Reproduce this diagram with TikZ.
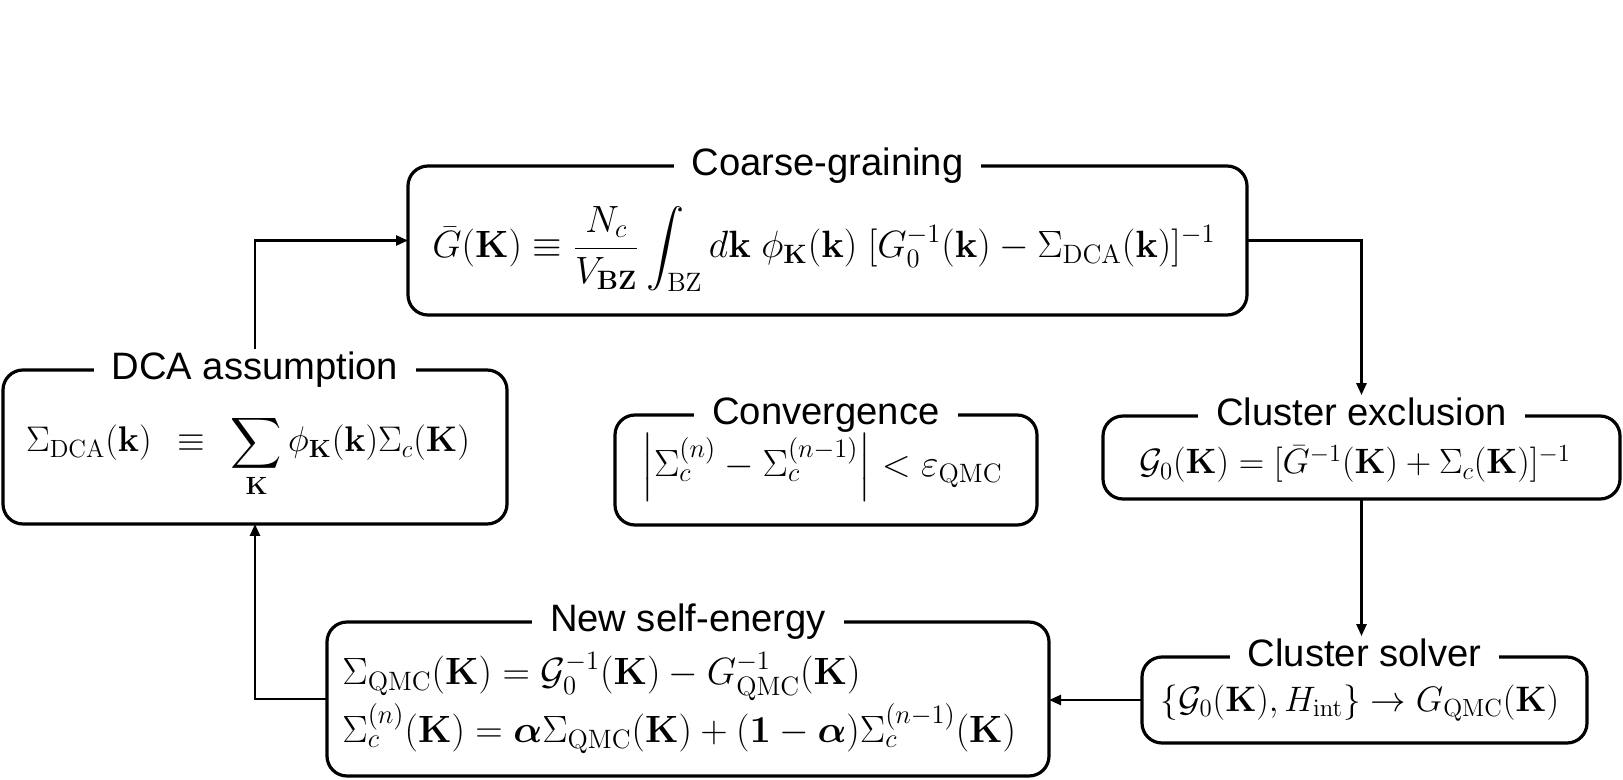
\RequirePackage{fix-cm}
\documentclass[tikz,border=0pt]{standalone}
\usepackage{amsmath,amssymb}
\usepackage{bm}
\usepackage[no-math]{fontspec}
\newfontfamily\titlefont{Liberation Sans}
\usetikzlibrary{arrows.meta,calc}
\begin{document}
\begin{tikzpicture}[x=0.5pt,y=-0.5pt,
  box/.style={draw,line width=1.6pt,rounded corners=10pt,inner sep=0pt,outer sep=0pt},
  ttl/.style={fill=white,inner xsep=9pt,inner ysep=1pt,anchor=base,yshift=-4.6pt,
    font=\titlefont\fontsize{19.1}{22}\selectfont},
  frm/.style={inner sep=0pt,font=\fontsize{#1}{28}\selectfont},
  frm/.default=19,
  conn/.style={line width=1.3pt,-{Triangle[length=6pt,width=5pt]}}]
\useasboundingbox (0,0) rectangle (1623,780);
% boxes
\node[box,minimum width=419.5pt,minimum height=74.5pt] (cg) at (827.5,240.5) {};
\node[box,minimum width=252pt,minimum height=77pt] (dca) at (255,447) {};
\node[box,minimum width=211pt,minimum height=55pt] (conv) at (826,470) {};
\node[box,minimum width=258.5pt,minimum height=41.5pt] (excl) at (1361.5,457.5) {};
\node[box,minimum width=222.5pt,minimum height=43pt] (solv) at (1364.5,700) {};
\node[box,minimum width=361pt,minimum height=77pt] (nse) at (688,699) {};
% titles
\node[ttl] (cgT) at (cg.north) {Coarse-graining};
\node[ttl] (dcaT) at (dca.north) {DCA assumption};
\node[ttl] (convT) at (conv.north) {Convergence};
\node[ttl] (exclT) at (excl.north) {Cluster exclusion};
\node[ttl] (solvT) at (solv.north) {Cluster solver};
\node[ttl] (nseT) at (nse.north) {New self-energy};
% formulas
\node[frm] (cgF) at (824,249) {$\bar{G}(\mathbf{K}) \equiv \dfrac{N_c}{V_{\mathbf{BZ}}}\displaystyle\int_{\mathrm{BZ}} d\mathbf{k}\;\phi_{\mathbf{K}}(\mathbf{k})\;[G_0^{-1}(\mathbf{k}) - \Sigma_{\mathrm{DCA}}(\mathbf{k})]^{-1}$};
\node[frm=17.8,anchor=base] (dcaF) at (248,452) {$\Sigma_{\mathrm{DCA}}(\mathbf{k}) \;\,\equiv\;\, \displaystyle\sum_{\mathbf{K}} \phi_{\mathbf{K}}(\mathbf{k})\Sigma_c(\mathbf{K})$};
\node[frm,anchor=base] (convF) at (822,477) {$\Big|\Sigma_c^{(n)} - \Sigma_c^{(n-1)}\Big| < \varepsilon_{\mathrm{QMC}}$};
\node[frm=17.6] (exclF) at (1355,464) {$\mathcal{G}_0(\mathbf{K}) = [\bar{G}^{-1}(\mathbf{K}) + \Sigma_c(\mathbf{K})]^{-1}$};
\node[frm=17.7] (solvF) at (1360,703) {$\{\mathcal{G}_0(\mathbf{K}), H_{\mathrm{int}}\} \to G_{\mathrm{QMC}}(\mathbf{K})$};
\node[frm,align=left,anchor=west] (nseF) at (342,703) {$\Sigma_{\mathrm{QMC}}(\mathbf{K}) = \mathcal{G}_0^{-1}(\mathbf{K}) - G_{\mathrm{QMC}}^{-1}(\mathbf{K})$\\
$\Sigma_c^{(n)}(\mathbf{K}) = \bm{\alpha}\Sigma_{\mathrm{QMC}}(\mathbf{K}) + (\mathbf{1}-\bm{\alpha})\Sigma_c^{(n-1)}(\mathbf{K})$};
% connectors
\draw[conn] (dcaT.north) |- (cg.west);
\draw[conn] (cg.east) -| (exclT.north);
\draw[conn] (excl.south) -- (excl.south |- solvT.north);
\draw[conn] (solv.west) -- (solv.west -| nse.east);
\draw[conn] (nse.west) -| (dca.south);
\end{tikzpicture}
\end{document}
